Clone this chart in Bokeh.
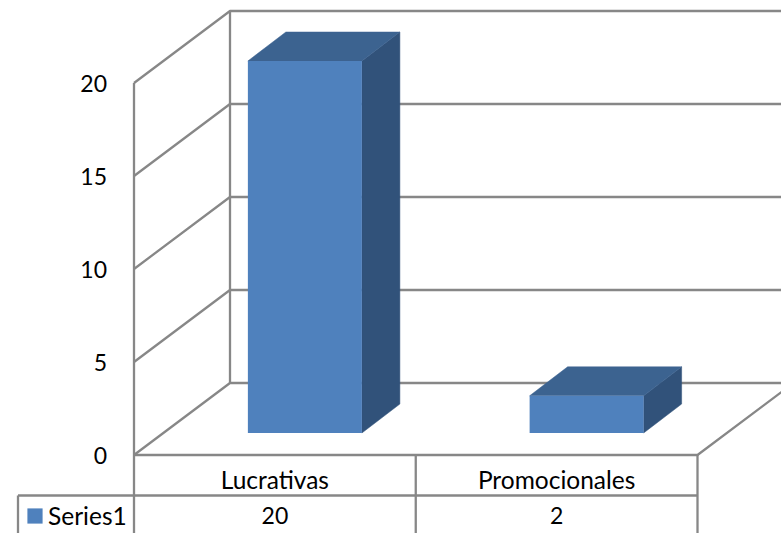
from bokeh.plotting import figure
from bokeh.embed import file_html
from bokeh.resources import INLINE
from bokeh.core.properties import value
from bokeh.models import Range1d, FixedTicker, Legend, LegendItem

categories = ["Lucrativas", "Promocionales"]
series_name = "Series1"
series_values = [20, 2]
y_ticks = [0, 5, 10, 15, 20]

# Scale: one category = 281.75 px, one value unit = 18.6 px
PX_X, PX_Y = 281.75, 18.6
X0_PX, Y0_PX = 133.5, 454.5      # window position of the chart origin
W, H = 781, 533
depth_x, depth_y = 96 / PX_X, 72 / PX_Y            # wall depth
bar_w = 114 / PX_X
bar_dx, bar_dy = 38 / PX_X, 29 / PX_Y              # bar depth
bar_shift, bar_base = 30 / PX_X, 22 / PX_Y         # bar position on the floor
row1_y, row2_y = -40.5 / PX_Y, -60.5 / PX_Y        # table
table_left = (17.5 - X0_PX) / PX_X
table_bottom = (Y0_PX - H) / PX_Y

GRID = "#878787"
FRONT, SIDE, TOP = "#4f81bd", "#31527a", "#3c6390"
FONT = "Lato"
FS_NUM = "23px"
FS_TXT = "24.5px"

p = figure(width=W, height=H, output_backend="svg", toolbar_location=None,
           x_range=Range1d(-X0_PX / PX_X, (W - X0_PX) / PX_X),
           y_range=Range1d((Y0_PX - H) / PX_Y, Y0_PX / PX_Y),
           min_border_left=0, min_border_right=0, min_border_top=0, min_border_bottom=0)
p.outline_line_color = None
p.grid.visible = False

n = len(categories)

# Axes
ya = p.yaxis[0]
ya.fixed_location = 0
ya.ticker = FixedTicker(ticks=y_ticks)
ya.axis_line_color = None
ya.major_tick_line_color = None
ya.minor_tick_line_color = None
ya.major_label_standoff = 21
ya.major_label_text_font = FONT
ya.major_label_text_font_size = FS_NUM
ya.major_label_text_color = "#000000"

xa = p.xaxis[0]
xa.fixed_location = 0
xa.ticker = FixedTicker(ticks=[i + 0.5 for i in range(n)])
xa.major_label_overrides = {i + 0.5: c for i, c in enumerate(categories)}
xa.axis_line_color = None
xa.major_tick_line_color = None
xa.minor_tick_line_color = None
xa.major_label_standoff = 4
xa.major_label_text_font = FONT
xa.major_label_text_font_size = FS_TXT
xa.major_label_text_color = "#000000"

# Walls and floor
xs, ys = [], []
for t in y_ticks:
    xs.append([0, depth_x, n + depth_x])
    ys.append([t, t + depth_y, t + depth_y])
xs.append([0, 0]); ys.append([0, y_ticks[-1]])
xs.append([depth_x, depth_x]); ys.append([depth_y, y_ticks[-1] + depth_y])
xs.append([0, n, n + depth_x]); ys.append([0, 0, depth_y])
# Data table lines
xs.append([table_left, n]); ys.append([row1_y, row1_y])
xs.append([table_left, table_left]); ys.append([row1_y, table_bottom])
for i in range(n + 1):
    xs.append([i, i]); ys.append([0, table_bottom])
p.multi_line(xs, ys, line_color=GRID, line_width=2.3)

# Bars
lefts = [i + 0.5 - bar_w / 2 + bar_shift for i in range(n)]
rights = [l + bar_w for l in lefts]
tops = [bar_base + v for v in series_values]
bases = [bar_base] * n

p.patches([[r, r + bar_dx, r + bar_dx, r] for r in rights],
          [[b, b + bar_dy, t + bar_dy, t] for b, t in zip(bases, tops)],
          fill_color=SIDE, line_color=SIDE, line_width=0.5)
p.patches([[l, l + bar_dx, r + bar_dx, r] for l, r in zip(lefts, rights)],
          [[t, t + bar_dy, t + bar_dy, t] for t in tops],
          fill_color=TOP, line_color=TOP, line_width=0.5)
front = p.quad(left=lefts, right=rights, bottom=bases, top=tops,
               fill_color=FRONT, line_color=None)

# Data table values
p.text([i + 0.5 for i in range(n)], [row2_y] * n, text=[str(v) for v in series_values],
       text_font=value(FONT), text_font_size=value(FS_NUM), text_color="#000000",
       text_align="center", text_baseline="middle")

legend = Legend(items=[LegendItem(label=series_name, renderers=[front])],
                location=(25, 3), orientation="vertical",
                border_line_color=None, background_fill_alpha=0,
                padding=0, margin=0, spacing=0,
                glyph_width=19, glyph_height=19, label_standoff=4,
                label_text_font=FONT, label_text_font_size=FS_TXT, label_text_color="#000000")
p.add_layout(legend)

open("out.html", "w").write(file_html(p, INLINE))
